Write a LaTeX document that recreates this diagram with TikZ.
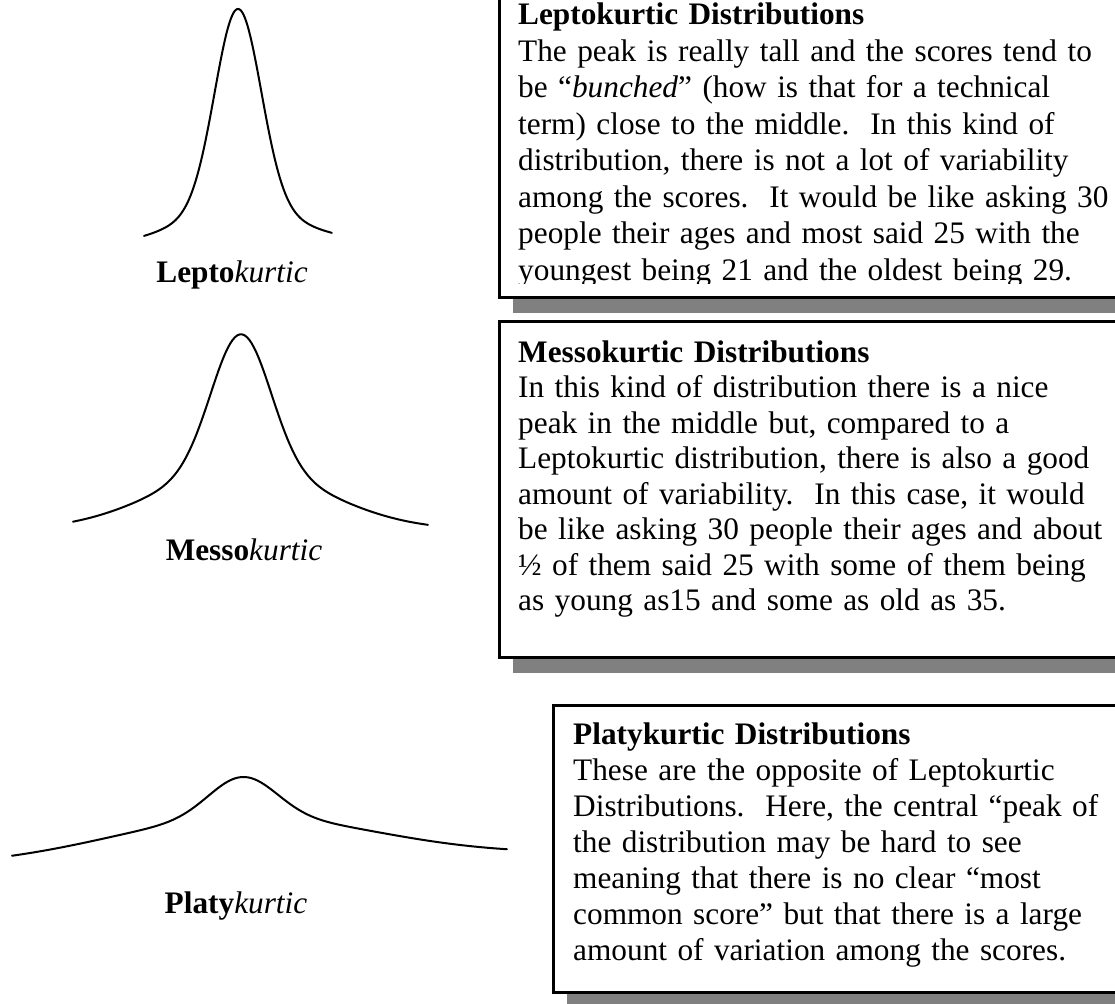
\documentclass[tikz,border=0pt]{standalone}
\usepackage{fontspec}
\setmainfont{Liberation Serif}
\usetikzlibrary{positioning}
\definecolor{shadowgray}{RGB}{128,128,128}
\tikzset{
  boxtext/.style={anchor=base west, inner sep=0pt, text width=700pt, align=left,
                  font=\fontsize{31.3}{#1}\selectfont},
  boxtext/.default=36.5,
  boxframe/.style={draw=black, line width=3pt},
  boxshadow/.style={fill=shadowgray},
  curvename/.style={anchor=base, inner sep=0pt, font=\fontsize{31.3}{36}\selectfont},
  bellcurve/.style={line width=2pt, line join=round, line cap=round, samples=150}
}

\begin{document}
\frenchspacing
\begin{tikzpicture}[x=1pt, y=-1pt]
    \useasboundingbox (0,0) rectangle (1115,1003);
    \clip (0,0) rectangle (1115,1003);

    % curves on the left
    \draw[bellcurve, domain=-0.94:0.94] plot
        ({238+100*\x}, {245-1.6*\x-200*exp(-9.452*(\x)^2)-36*exp(-1.389*(\x)^2)});
    \node[curvename] (leptoname) at (232,282) {\textbf{Lepto}\textit{kurtic}};

    \draw[bellcurve, domain=-1.68:1.87] plot
        ({241+100*\x}, {530-135*exp(-5.767*(\x)^2)-60.7*exp(-0.7042*(\x)^2)});
    \node[curvename] (messoname) at (244,560) {\textbf{Messo}\textit{kurtic}};

    \draw[bellcurve, domain=-2.31:2.64] plot
        ({243+100*\x}, {860-2*\x-40*exp(-4.496*(\x)^2)-43*exp(-0.2955*(\x)^2)});
    \node[curvename] (platyname) at (236,913) {\textbf{Platy}\textit{kurtic}};

    % text boxes on the right
    \fill[boxshadow] (513,298.5) rectangle (1130,313);
    \draw[boxframe] (499,-10) rectangle (1130,297);
    \begin{scope}
        \clip (500,0) rectangle (1115,283);
        \node[boxtext] (leptotext) at (518,25) {\textbf{Leptokurtic Distributions}\\
            The peak is really tall and the scores tend to\\
            be “\textit{bunched}” (how is that for a technical\\
            term) close to the middle.~ In this kind of\\
            distribution, there is not a lot of variability\\
            among the scores.~ It would be like asking 30\\
            people their ages and most said 25 with the\\
            youngest being 21 and the oldest being 29.};
    \end{scope}

    \fill[boxshadow] (513,658.5) rectangle (1130,673);
    \draw[boxframe] (499,321) rectangle (1130,657);
    \node[boxtext=35.5] (messotext) at (518,362) {\textbf{Messokurtic Distributions}\\
        In this kind of distribution there is a nice\\
        peak in the middle but, compared to a\\
        Leptokurtic distribution, there is also a good\\
        amount of variability.~ In this case, it would\\
        be like asking 30 people their ages and about\\
        ½ of them said 25 with some of them being\\
        as young as15 and some as old as 35.};

    \fill[boxshadow] (567,993.5) rectangle (1130,1010);
    \draw[boxframe] (553,705) rectangle (1130,992);
    \node[boxtext=36] (platytext) at (573,744) {\textbf{Platykurtic Distributions}\\
        These are the opposite of Leptokurtic\\
        Distributions.~ Here, the central “peak of\\
        the distribution may be hard to see\\
        meaning that there is no clear “most\\
        common score” but that there is a large\\
        amount of variation among the scores.};
\end{tikzpicture}
\end{document}
